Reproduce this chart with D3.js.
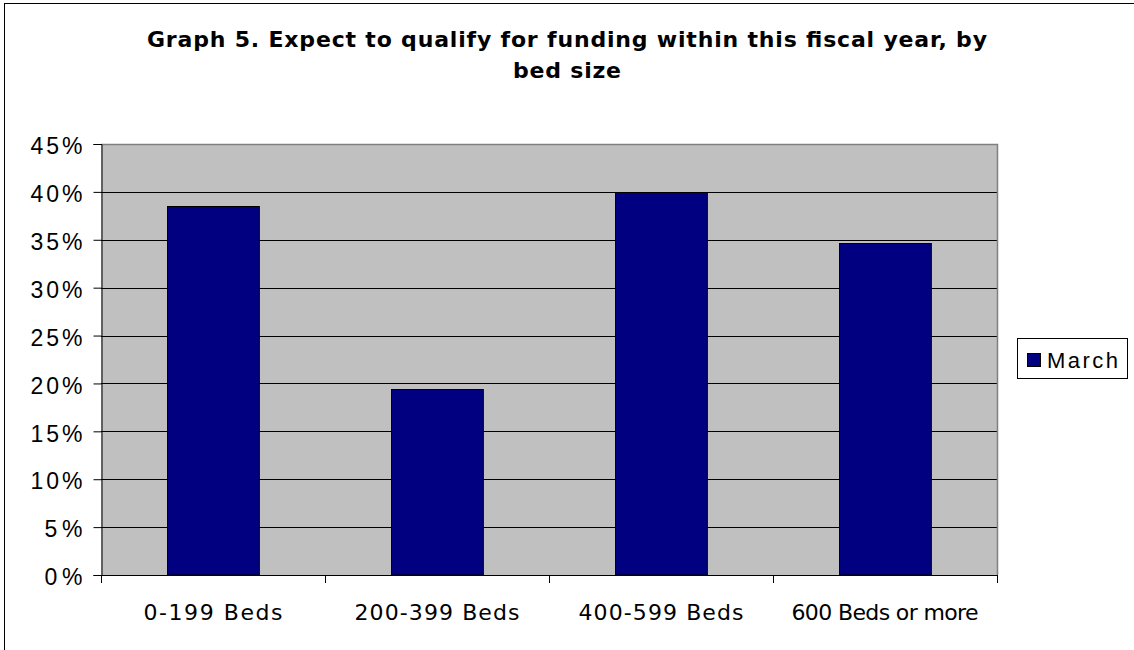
<!DOCTYPE html>
<html>
<head>
<meta charset="utf-8">
<script src="https://cdn.jsdelivr.net/npm/d3@7"></script>
<style>
  html, body { margin: 0; padding: 0; background: #fff; }
  svg { display: block; }
</style>
</head>
<body>
<svg id="chart" width="1134" height="650"></svg>
<script>
// ---- data ----
const categories = ["0-199 Beds", "200-399 Beds", "400-599 Beds", "600 Beds or more"];
const seriesName = "March";
const values = [38.5, 19.4, 40.0, 34.7];
const yTicks = [0, 5, 10, 15, 20, 25, 30, 35, 40, 45];
const titleLines = ["Graph 5. Expect to qualify for funding within this fiscal year, by", "bed size"];

const svg = d3.select("#chart");

// outer border (right/bottom run off the picture)
svg.append("rect")
  .attr("x", 4.5).attr("y", 3.5)
  .attr("width", 1140).attr("height", 660)
  .attr("fill", "#fff").attr("stroke", "#000").attr("stroke-width", 1);

const plot = { left: 101, right: 997, top: 144, bottom: 575 };

const x = d3.scaleBand().domain(categories)
  .range([plot.left, plot.right]).paddingInner(0.59).paddingOuter(0.295);
const xb = d3.scaleBand().domain(categories).range([plot.left, plot.right]).padding(0);
const y = d3.scaleLinear().domain([0, 45]).range([plot.bottom, plot.top]);

// plot area background
svg.append("rect")
  .attr("x", plot.left).attr("y", plot.top)
  .attr("width", plot.right - plot.left).attr("height", plot.bottom - plot.top)
  .attr("fill", "#c0c0c0");

// gridlines
svg.append("g").selectAll("line").data(yTicks.filter(d => d > 0 && d < 45)).join("line")
  .attr("x1", plot.left).attr("x2", plot.right)
  .attr("y1", d => Math.round(y(d)) + 0.5).attr("y2", d => Math.round(y(d)) + 0.5)
  .attr("stroke", "#000").attr("stroke-width", 1);

// plot border top/right (gray)
svg.append("path")
  .attr("d", `M${plot.left},${plot.top + 0.5}H${plot.right + 0.5}V${plot.bottom}`)
  .attr("fill", "none").attr("stroke", "#808080").attr("stroke-width", 1.5);

// bars
svg.append("g").selectAll("rect").data(values).join("rect")
  .attr("x", (d, i) => Math.round(x(categories[i])) + 0.5)
  .attr("y", d => Math.round(y(d)) + 0.5)
  .attr("width", x.bandwidth())
  .attr("height", d => y(0) - Math.round(y(d)) - 0.5)
  .attr("fill", "#000080").attr("stroke", "#000").attr("stroke-width", 1);

// y axis
const yAxis = d3.axisLeft(y).tickValues(yTicks).tickSize(8).tickPadding(11)
  .tickFormat(d => d + "%");
const gy = svg.append("g").attr("transform", `translate(${plot.left + 0.5},0)`).call(yAxis);
gy.select(".domain").attr("stroke", "#000");
gy.selectAll(".tick line").attr("stroke", "#000");
gy.selectAll(".tick text")
  .attr("font-family", "'Liberation Sans', Arial, sans-serif")
  .attr("font-size", 23).attr("fill", "#000").attr("dy", "0.42em")
  .attr("textLength", d => (d >= 10 ? 52 : 38)).attr("lengthAdjust", "spacing");

// x axis (ticks at category boundaries)
const boundaries = categories.map(c => xb(c)).concat([plot.right]);
const gx = svg.append("g");
gx.append("line")
  .attr("x1", plot.left).attr("x2", plot.right)
  .attr("y1", plot.bottom + 0.5).attr("y2", plot.bottom + 0.5)
  .attr("stroke", "#000");
gx.selectAll("line.tk").data(boundaries).join("line").attr("class", "tk")
  .attr("x1", d => Math.round(d) + 0.5).attr("x2", d => Math.round(d) + 0.5)
  .attr("y1", plot.bottom).attr("y2", plot.bottom + 8)
  .attr("stroke", "#000");
const xLabelWidths = [139, 165, 165, 187];
gx.selectAll("text").data(categories).join("text")
  .attr("x", d => xb(d) + xb.bandwidth() / 2)
  .attr("y", 620)
  .attr("text-anchor", "middle")
  .attr("font-family", "'DejaVu Sans', Verdana, sans-serif")
  .attr("font-size", 22).attr("fill", "#000")
  .attr("textLength", (d, i) => xLabelWidths[i]).attr("lengthAdjust", "spacing")
  .text(d => d);

// title
const tW = [840, 108];
const tY = [47, 78];
svg.append("g").selectAll("text").data(titleLines).join("text")
  .attr("x", 567).attr("y", (d, i) => tY[i])
  .attr("text-anchor", "middle")
  .attr("font-family", "'DejaVu Sans', Verdana, sans-serif")
  .attr("font-weight", "bold").attr("font-size", 22).attr("fill", "#000")
  .attr("textLength", (d, i) => tW[i]).attr("lengthAdjust", "spacing")
  .text(d => d);

// legend
const lg = svg.append("g");
lg.append("rect").attr("x", 1017.5).attr("y", 338.5).attr("width", 110).attr("height", 40)
  .attr("fill", "#fff").attr("stroke", "#000");
lg.append("rect").attr("x", 1027.5).attr("y", 353.5).attr("width", 13).attr("height", 13)
  .attr("fill", "#000080").attr("stroke", "#000");
lg.append("text").attr("x", 1047).attr("y", 368)
  .attr("font-family", "'Liberation Sans', Arial, sans-serif")
  .attr("font-size", 22).attr("fill", "#000")
  .attr("textLength", 71).attr("lengthAdjust", "spacing")
  .text(seriesName);
</script>
</body>
</html>
